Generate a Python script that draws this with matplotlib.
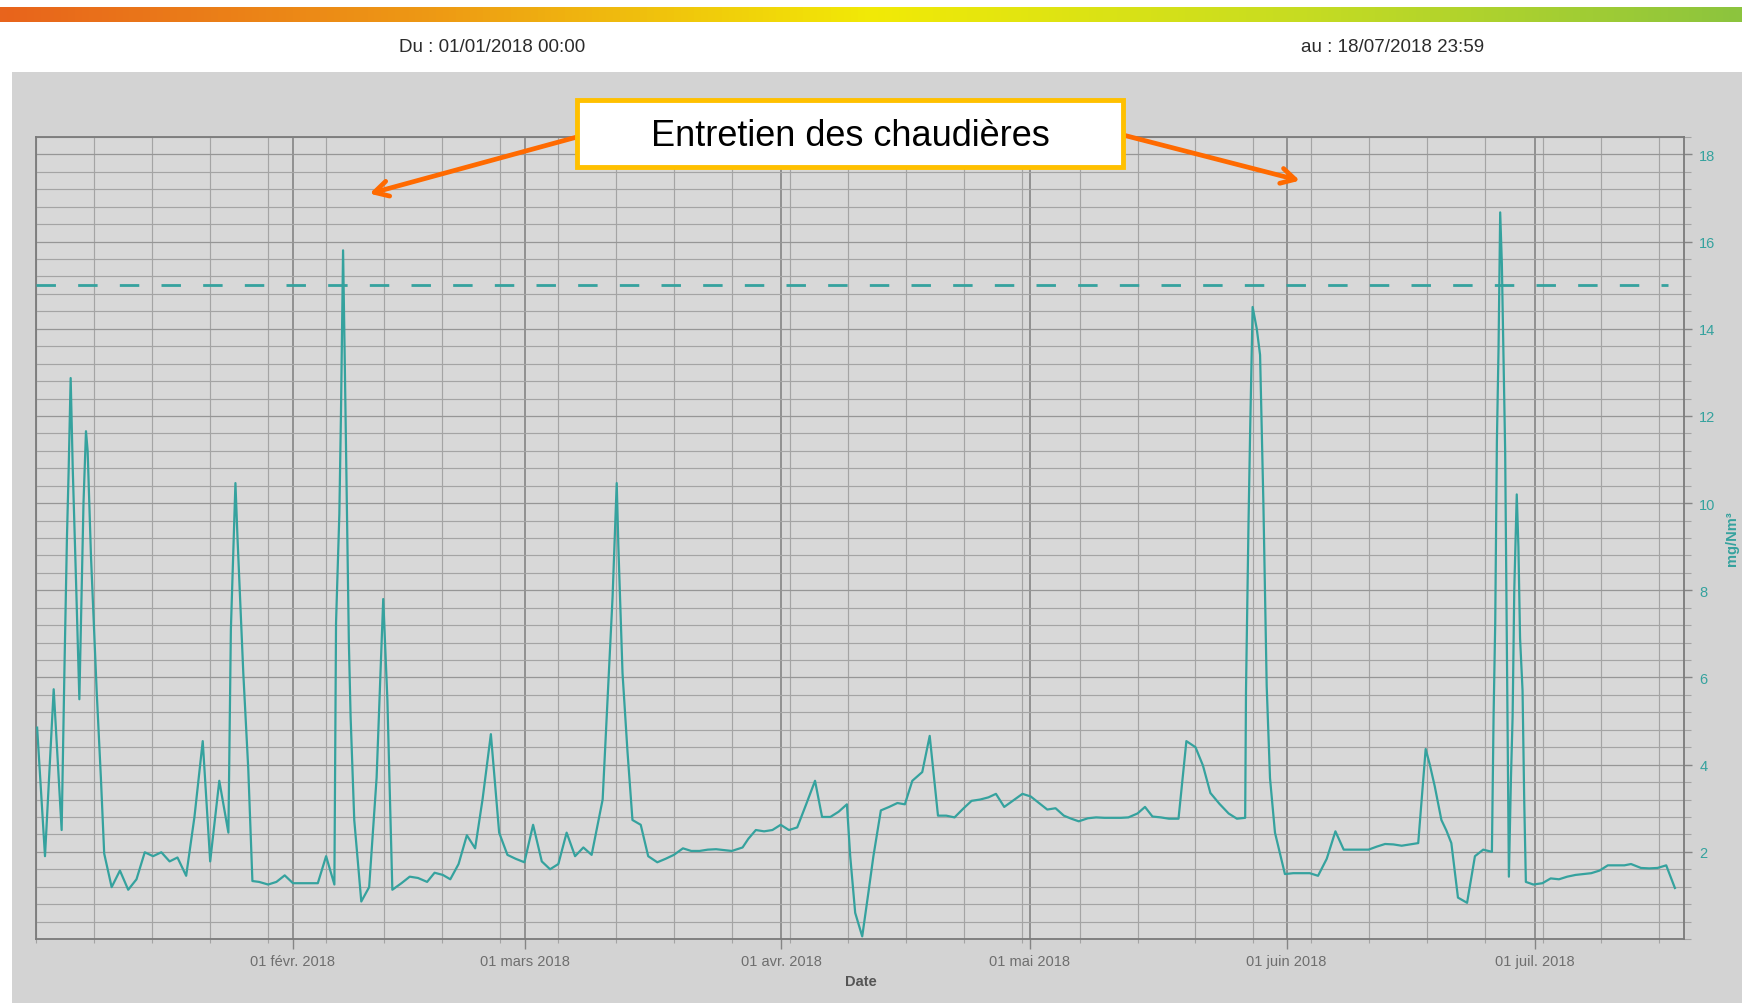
"""Daily emission trace (mg/Nm3) for Jan-Jul 2018 with boiler-maintenance callout."""

import matplotlib
matplotlib.use("Agg")

import matplotlib.dates as mdates
import matplotlib.pyplot as plt
import numpy as np
import pandas as pd
from matplotlib import font_manager
from matplotlib.colors import LinearSegmentedColormap
from matplotlib.patches import Rectangle
from matplotlib.ticker import FixedLocator, FuncFormatter, MultipleLocator

# --- data -------------------------------------------------------------------
START = pd.Timestamp("2018-01-01 00:00")
END = pd.Timestamp("2018-07-18 23:59")

# days elapsed since START
day_offset = [
    0.1, 1.05, 2.1, 3.06, 3.4, 3.7, 3.9, 4.15, 4.4, 4.8, 5.2, 5.7, 6.0, 6.2, 6.6,
    7.3, 7.8, 8.2, 9.1, 10.1, 11.1, 12.1, 13.1, 14.1, 15.1, 16.1, 17.05, 18.1,
    19.1, 20.1, 21.0, 22.1, 23.2, 23.5, 24.05, 24.3, 25.0, 25.6, 26.1, 26.9,
    28.0, 29.0, 30.0, 31.0, 32.0, 33.0, 34.0, 35.0, 36.0, 36.2, 36.6, 36.8,
    37.05, 37.25, 37.5, 37.75, 37.96, 38.4, 39.25, 40.2, 41.1, 41.9, 42.4, 43.0,
    44.1, 45.1, 46.1, 47.2, 48.1, 49.1, 50.0, 51.0, 52.0, 53.0, 53.9, 54.9,
    55.9, 56.9, 57.9, 58.95, 60.0, 61.05, 62.05, 63.05, 64.05, 65.07, 66.07,
    67.07, 68.4, 69.0, 69.6, 70.1, 70.3, 70.8, 71.4, 72.0, 73.0, 73.9, 75.0,
    76.0, 77.0, 78.1, 79.1, 80.1, 81.1, 82.1, 83.1, 84.0, 85.3, 86.0, 86.9,
    87.9, 88.9, 89.9, 90.9, 91.9, 93.0, 94.05, 94.9, 95.9, 96.9, 97.9, 98.3,
    98.9, 99.75, 100.5, 101.1, 102.0, 103.0, 104.0, 104.9, 105.8, 107.0, 107.9,
    108.9, 109.9, 110.9, 112.0, 112.96, 114.0, 115.0, 115.9, 116.9, 118.0,
    119.1, 120.1, 121.1, 122.1, 123.1, 124.1, 125.0, 125.9, 127.0, 128.0,
    129.0, 130.0, 131.0, 131.9, 133.0, 133.9, 134.8, 135.8, 136.8, 137.95,
    138.9, 140.0, 140.9, 141.8, 142.9, 144.0, 145.0, 146.0, 146.1, 146.4,
    146.6, 146.9, 147.4, 147.8, 148.2, 148.6, 149.0, 149.6, 150.8, 151.8,
    152.8, 153.8, 154.8, 155.85, 156.9, 157.9, 158.9, 159.9, 160.9, 161.9,
    162.9, 163.9, 164.9, 165.9, 166.9, 167.8, 168.3, 168.9, 169.7, 170.3,
    170.9, 171.7, 172.8, 173.75, 174.75, 175.8, 176.0, 176.2, 176.4, 176.6,
    176.8, 177.0, 177.2, 177.4, 177.6, 177.85, 178.1, 178.3, 178.5, 178.8,
    179.0, 179.2, 179.5, 179.7, 179.9, 180.8, 181.9, 182.9, 183.9, 184.9,
    185.9, 186.9, 187.8, 188.8, 189.8, 190.8, 191.8, 192.6, 193.8, 194.8,
    195.8, 196.85, 197.9,
]
conc_mg_nm3 = [
    4.85, 1.9, 5.73, 2.5, 6.2, 9.2, 10.7, 12.87, 10.8, 8.2, 5.5, 10.0, 11.65,
    11.2, 8.8, 5.65, 3.7, 1.96, 1.19, 1.57, 1.13, 1.37, 1.99, 1.9, 1.99, 1.78,
    1.87, 1.45, 2.8, 4.54, 1.78, 3.63, 2.44, 7.1, 10.46, 9.2, 6.1, 3.9, 1.33,
    1.31, 1.25, 1.31, 1.46, 1.28, 1.28, 1.28, 1.28, 1.9, 1.25, 7.25, 9.75,
    12.1, 15.8, 13.3, 10.0, 6.8, 5.1, 2.73, 0.86, 1.19, 3.7, 7.8, 5.5, 1.13,
    1.28, 1.43, 1.4, 1.31, 1.52, 1.47, 1.37, 1.72, 2.38, 2.08, 3.21, 4.7, 2.44,
    1.93, 1.84, 1.76, 2.62, 1.78, 1.6, 1.72, 2.44, 1.9, 2.1, 1.93, 3.2, 5.5,
    7.85, 10.46, 9.0, 6.1, 4.3, 2.73, 2.62, 1.9, 1.76, 1.84, 1.93, 2.08, 2.02,
    2.02, 2.05, 2.06, 2.04, 2.02, 2.1, 2.3, 2.5, 2.47, 2.5, 2.62, 2.5, 2.56,
    3.1, 3.63, 2.8, 2.8, 2.92, 3.09, 1.9, 0.6, 0.06, 1.07, 1.9, 2.95, 3.03,
    3.12, 3.09, 3.63, 3.83, 4.66, 2.83, 2.83, 2.79, 3.0, 3.17, 3.2, 3.25, 3.33,
    3.03, 3.18, 3.33, 3.27, 3.12, 2.97, 3.0, 2.83, 2.76, 2.7, 2.77, 2.79, 2.78,
    2.78, 2.78, 2.79, 2.88, 3.03, 2.81, 2.79, 2.76, 2.76, 4.54, 4.4, 3.98,
    3.35, 3.1, 2.88, 2.76, 2.78, 5.7, 9.5, 11.65, 14.5, 14.0, 13.4, 10.0, 5.8,
    3.69, 2.44, 1.49, 1.51, 1.51, 1.51, 1.45, 1.84, 2.47, 2.05, 2.05, 2.05,
    2.05, 2.12, 2.18, 2.17, 2.14, 2.17, 2.2, 4.36, 4.0, 3.5, 2.73, 2.49, 2.2,
    0.95, 0.83, 1.9, 2.05, 2.0, 5.1, 7.25, 11.4, 13.55, 16.67, 15.5, 13.4,
    11.2, 6.9, 1.43, 3.69, 5.1, 8.0, 10.2, 9.0, 6.9, 5.7, 3.2, 1.31, 1.25,
    1.28, 1.39, 1.37, 1.43, 1.47, 1.49, 1.51, 1.57, 1.69, 1.69, 1.69, 1.72,
    1.63, 1.62, 1.63, 1.69, 1.17,
]
limit_value = 15.0
month_names_fr = ["janv.", "févr.", "mars", "avr.", "mai", "juin",
                  "juil.", "août", "sept.", "oct.", "nov.", "déc."]
callout_text = "Entretien des chaudières"
date_from = "Du : 01/01/2018 00:00"
date_to = "au : 18/07/2018 23:59"

# --- fonts ------------------------------------------------------------------
installed = {f.name for f in font_manager.fontManager.ttflist}
NARROW = "Liberation Sans Narrow" if "Liberation Sans Narrow" in installed else "Liberation Sans"
ARIAL = "Liberation Sans" if "Liberation Sans" in installed else "DejaVu Sans"

TEAL = "#35a29e"
GRID = "#a4a4a4"
GRID_DARK = "#858585"
PANEL = "#d3d3d3"

dates = START + pd.to_timedelta(np.array(day_offset), unit="D")

fig = plt.figure(figsize=(17.42, 10.04), dpi=100)
W, H = 1742, 1004

# grey panel behind the chart
fig.patches.append(Rectangle((12 / W, 0), 1, (H - 73) / H, transform=fig.transFigure,
                             facecolor=PANEL, edgecolor="none", zorder=-5))

# orange -> yellow -> green band at the top
band = fig.add_axes([0, (H - 23) / H, 1, 15 / H])
cmap = LinearSegmentedColormap.from_list(
    "band", [(0, "#e8641c"), (0.25, "#ee9a14"), (0.5, "#f2ea06"),
             (0.75, "#c6dc22"), (1.0, "#8cc43e")])
band.imshow(np.linspace(0, 1, 512)[None, :], aspect="auto", cmap=cmap)
band.axis("off")

fig.text(492 / W, 1 - 47 / H, date_from, ha="center", va="center",
         fontsize=13.5, family=NARROW, color="#2b2b2b")
fig.text(1393 / W, 1 - 47 / H, date_to, ha="center", va="center",
         fontsize=13.5, family=NARROW, color="#2b2b2b")

# --- main axes --------------------------------------------------------------
ax = fig.add_axes([36.3 / W, 64 / H, (1684 - 36.3) / W, 802 / H])
ax.set_facecolor("#d8d8d8")
ax.plot(dates, conc_mg_nm3, color=TEAL, lw=1.6, zorder=3)
ax.axhline(limit_value, xmax=0.99, color=TEAL, lw=2, ls=(0, (7, 8)), zorder=3)

ax.set_xlim(START, END)
ax.set_ylim(0, 18.4)

ax.xaxis.set_major_locator(mdates.MonthLocator(bymonth=range(2, 8)))
ax.xaxis.set_minor_locator(mdates.WeekdayLocator(byweekday=mdates.MO))
ax.xaxis.set_major_formatter(FuncFormatter(
    lambda x, pos: "01 {} {}".format(month_names_fr[mdates.num2date(x).month - 1],
                                     mdates.num2date(x).year)))

ax.yaxis.tick_right()
ax.yaxis.set_label_position("right")
ax.yaxis.set_major_locator(FixedLocator(np.arange(2, 19, 2)))
ax.yaxis.set_minor_locator(MultipleLocator(0.4))

ax.grid(which="minor", axis="both", color=GRID, lw=0.85)
ax.grid(which="major", axis="y", color="#969696", lw=0.9)
ax.grid(which="major", axis="x", color=GRID_DARK, lw=1.2)
ax.set_axisbelow(True)

ax.tick_params(axis="x", which="major", length=7, width=1, color=GRID_DARK, pad=4,
               labelsize=10.5, labelcolor="#6e6e6e")
ax.tick_params(axis="x", which="minor", length=3, width=0.8, color=GRID)
ax.tick_params(axis="y", which="major", length=6, width=1, color=GRID_DARK, pad=5,
               labelsize=10.5, labelcolor=TEAL, left=False, right=True)
ax.tick_params(axis="y", which="minor", length=5, width=0.8, color=GRID,
               left=False, right=True)
for lab in ax.get_xticklabels() + ax.get_yticklabels():
    lab.set_family(NARROW)

for side in ("left", "right", "top", "bottom"):
    ax.spines[side].set_color("#7a7a7a")
    ax.spines[side].set_linewidth(1.3)

ax.set_xlabel("Date", family=NARROW, fontsize=10.5, fontweight="bold", color="#555555")
ax.xaxis.set_label_coords(0.5005, -0.044)
ax.set_ylabel("mg/Nm³", family=NARROW, fontsize=10.5, fontweight="bold", color=TEAL)
ax.yaxis.set_label_coords(1.0249, 0.5)

# --- callout ----------------------------------------------------------------
fig.patches.append(Rectangle((577 / W, 1 - 168 / H), 546 / W, 67 / H,
                             transform=fig.transFigure, facecolor="white",
                             edgecolor="#ffc000", lw=3.5, zorder=5))
fig.text(850 / W, 1 - 137 / H, callout_text, ha="center", va="center",
         fontsize=26, family=ARIAL, color="black", zorder=6)

arrow = dict(arrowstyle="->,head_length=1.0,head_width=0.55", color="#ff6a00",
             lw=3.4, shrinkA=0, shrinkB=0)
ax.annotate("", xy=(START + pd.Timedelta(days=40.25), 17.1),
            xytext=(577 / W, 1 - 138 / H), textcoords="figure fraction",
            arrowprops=arrow, annotation_clip=False, zorder=4)
ax.annotate("", xy=(START + pd.Timedelta(days=152.6), 17.4),
            xytext=(1123 / W, 1 - 136 / H), textcoords="figure fraction",
            arrowprops=arrow, annotation_clip=False, zorder=4)

fig.savefig("out.png", dpi=100, facecolor="white")
plt.close(fig)
